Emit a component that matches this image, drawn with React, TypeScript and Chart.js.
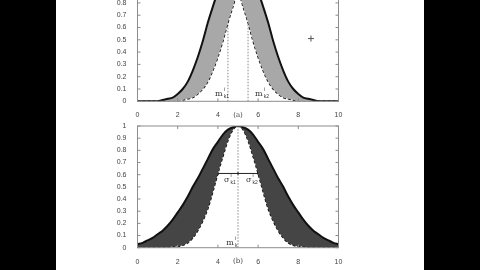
import { useEffect, useRef } from "react";
import { Chart, registerables } from "chart.js";

Chart.register(...registerables);

// ---------- data ----------
const xGrid = [
  0, 0.25, 0.5, 0.75, 1, 1.25, 1.5, 1.75, 2, 2.25, 2.5, 2.75, 3, 3.25, 3.5, 3.75, 4, 4.25, 4.5, 4.75, 5,
  5.25, 5.5, 5.75, 6, 6.25, 6.5, 6.75, 7, 7.25, 7.5, 7.75, 8, 8.25, 8.5, 8.75, 9, 9.25, 9.5, 9.75, 10,
];

// (a) uncertain mean: upper (solid) and lower (dashed) membership
const topUpper = [
  0, 0, 0, 0, 0, 0.01, 0.02, 0.03, 0.06, 0.1, 0.16, 0.25, 0.36, 0.49, 0.64, 0.77, 0.89, 0.97, 1, 1, 1,
  1, 1, 0.97, 0.89, 0.77, 0.64, 0.49, 0.36, 0.25, 0.16, 0.1, 0.06, 0.03, 0.02, 0.01, 0, 0, 0, 0, 0,
];
const topLower = [
  0, 0, 0, 0, 0, 0, 0, 0, 0, 0.01, 0.02, 0.03, 0.06, 0.1, 0.16, 0.25, 0.36, 0.49, 0.64, 0.77, 0.89,
  0.77, 0.64, 0.49, 0.36, 0.25, 0.16, 0.1, 0.06, 0.03, 0.02, 0.01, 0, 0, 0, 0, 0, 0, 0, 0, 0,
];
const topMeans = [4.5, 5.5];
const topCross = [{ x: 8.63, y: 0.51 }];

// (b) uncertain standard deviation
const bottomUpper = [
  0.03, 0.04, 0.06, 0.08, 0.11, 0.14, 0.18, 0.23, 0.29, 0.35, 0.42, 0.5, 0.57, 0.65, 0.73, 0.81, 0.87, 0.93, 0.97, 0.99, 1,
  0.99, 0.97, 0.93, 0.87, 0.81, 0.73, 0.65, 0.57, 0.5, 0.42, 0.35, 0.29, 0.23, 0.18, 0.14, 0.11, 0.08, 0.06, 0.04, 0.03,
];
const bottomLower = [
  0, 0, 0, 0, 0, 0, 0, 0.01, 0.01, 0.02, 0.04, 0.08, 0.14, 0.22, 0.32, 0.46, 0.61, 0.75, 0.88, 0.97, 1,
  0.97, 0.88, 0.75, 0.61, 0.46, 0.32, 0.22, 0.14, 0.08, 0.04, 0.02, 0.01, 0.01, 0, 0, 0, 0, 0, 0, 0,
];
const bottomMean = 5;
const sigmaLineX = [4, 5, 6];
const sigmaLineY = 0.61;

const xTickStep = 2;
const yTickStep = 0.1;

// ---------- helpers ----------
const FONT = "'Liberation Sans', Arial, sans-serif";
const pts = (ys: number[]) => xGrid.map((x, i) => ({ x, y: ys[i] }));

type Lbl = { main: string; sup: string; sub: string; x: number; y: number };

const topLabels: Lbl[] = [
  { main: "m", sup: "i", sub: "k1", x: 3.86, y: 0.04 },
  { main: "m", sup: "i", sub: "k2", x: 5.85, y: 0.04 },
];
const bottomLabels: Lbl[] = [
  { main: "σ", sup: "i", sub: "k1", x: 4.3, y: 0.54 },
  { main: "σ", sup: "i", sub: "k2", x: 5.4, y: 0.54 },
  { main: "m", sup: "i", sub: "k", x: 4.42, y: 0.02 },
];

function makeDecor(labels: Lbl[], caption: string, captionOffset: number) {
  return {
    id: "decor" + caption,
    afterDatasetsDraw(chart: any) {
      const { ctx, chartArea: a, scales } = chart;
      const xs = scales.x;
      const ys = scales.y;
      ctx.save();
      // frame
      ctx.strokeStyle = "#8c8c8c";
      ctx.lineWidth = 1;
      ctx.strokeRect(a.left, a.top, a.right - a.left, a.bottom - a.top);
      // inward ticks
      ctx.beginPath();
      for (let v = 0; v <= 1.0001; v += yTickStep) {
        const py = ys.getPixelForValue(v);
        ctx.moveTo(a.left, py);
        ctx.lineTo(a.left + 3, py);
        ctx.moveTo(a.right, py);
        ctx.lineTo(a.right - 3, py);
      }
      for (let v = 0; v <= 10; v += xTickStep) {
        const px = xs.getPixelForValue(v);
        ctx.moveTo(px, a.bottom);
        ctx.lineTo(px, a.bottom - 3);
        ctx.moveTo(px, a.top);
        ctx.lineTo(px, a.top + 3);
      }
      ctx.stroke();
      // labels
      ctx.fillStyle = "#333";
      ctx.textBaseline = "alphabetic";
      ctx.textAlign = "left";
      for (const l of labels) {
        const px = xs.getPixelForValue(l.x);
        const py = ys.getPixelForValue(l.y);
        ctx.font = `8px 'DejaVu Serif', serif`;
        ctx.fillText(l.main, px, py);
        const w = ctx.measureText(l.main).width;
        ctx.font = `5px ${FONT}`;
        ctx.fillText(l.sup, px + w + 1, py - 5);
        ctx.fillText(l.sub, px + w + 1, py + 2);
      }
      // caption
      ctx.font = `7px 'DejaVu Serif', serif`;
      ctx.textAlign = "center";
      ctx.fillStyle = "#444";
      ctx.fillText(caption, (a.left + a.right) / 2, a.bottom + captionOffset);
      ctx.restore();
    },
  };
}

function baseScales(xHeight: number) {
  return {
    x: {
      type: "linear" as const,
      min: 0,
      max: 10,
      grid: { display: false },
      border: { display: false },
      ticks: { stepSize: xTickStep, padding: 2, color: "#444", font: { size: 7, family: FONT }, maxRotation: 0 },
      afterFit: (s: any) => {
        s.height = xHeight;
      },
    },
    y: {
      min: 0,
      max: 1,
      grid: { display: false },
      border: { display: false },
      ticks: {
        stepSize: yTickStep,
        padding: 3,
        autoSkip: false,
        color: "#444",
        font: { size: 7, family: FONT },
        callback: (v: any) => String(Math.round(Number(v) * 10) / 10),
      },
      afterFit: (s: any) => {
        s.width = 37.5;
      },
    },
  };
}

const vline = (x: number, color: string) => ({
  data: [
    { x, y: 0 },
    { x, y: 1 },
  ],
  borderColor: color,
  borderWidth: 1,
  borderDash: [1.5, 1.5],
  pointRadius: 0,
  fill: false,
  tension: 0,
});

function ChartCanvas({ build, left, top, width, height }: any) {
  const ref = useRef<HTMLCanvasElement | null>(null);
  useEffect(() => {
    if (!ref.current) return;
    const chart = new Chart(ref.current, build());
    return () => chart.destroy();
  }, []);
  return (
    <canvas
      ref={ref}
      width={width}
      height={height}
      style={{ position: "absolute", left, top, width, height, display: "block" }}
    />
  );
}

function buildTop(): any {
  return {
    type: "line",
    data: {
      datasets: [
        {
          data: pts(topUpper),
          borderColor: "#111",
          borderWidth: 2,
          backgroundColor: "#a8a8a8",
          fill: "+1",
          pointRadius: 0,
          cubicInterpolationMode: "monotone",
        },
        {
          data: pts(topLower),
          borderColor: "#111",
          borderWidth: 1.5,
          borderDash: [3, 2],
          fill: false,
          pointRadius: 0,
          cubicInterpolationMode: "monotone",
        },
        vline(topMeans[0], "#8a8a8a"),
        vline(topMeans[1], "#8a8a8a"),
        {
          data: topCross,
          showLine: false,
          pointStyle: "cross",
          pointRadius: 3,
          borderColor: "#555",
          borderWidth: 1,
        },
      ],
    },
    options: {
      responsive: false,
      animation: false,
      events: [],
      layout: { padding: { top: 8.3, right: 21.5, left: 0, bottom: 0 } },
      plugins: { legend: { display: false }, tooltip: { enabled: false } },
      scales: baseScales(28.7),
    },
    plugins: [makeDecor(topLabels, "(a)", 15.5)],
  };
}

function buildBottom(): any {
  return {
    type: "line",
    data: {
      datasets: [
        {
          data: pts(bottomUpper),
          borderColor: "#111",
          borderWidth: 2,
          backgroundColor: "#454545",
          fill: "+1",
          pointRadius: 0,
          cubicInterpolationMode: "monotone",
        },
        {
          data: pts(bottomLower),
          borderColor: "#111",
          borderWidth: 1.5,
          borderDash: [3, 2],
          fill: false,
          pointRadius: 0,
          cubicInterpolationMode: "monotone",
        },
        vline(bottomMean, "#8a8a8a"),
        {
          data: sigmaLineX.map((x) => ({ x, y: sigmaLineY })),
          borderColor: "#222",
          borderWidth: 1,
          pointRadius: 1.2,
          pointBackgroundColor: "#222",
          pointBorderWidth: 0,
          fill: false,
          tension: 0,
        },
      ],
    },
    options: {
      responsive: false,
      animation: false,
      events: [],
      layout: { padding: { top: 11, right: 21.5, left: 0, bottom: 0 } },
      plugins: { legend: { display: false }, tooltip: { enabled: false } },
      scales: baseScales(22.3),
    },
    plugins: [makeDecor(bottomLabels, "(b)", 15.3)],
  };
}

export default function App() {
  return (
    <div
      style={{
        position: "fixed",
        left: 0,
        top: 0,
        width: 480,
        height: 270,
        background: "#000",
        overflow: "hidden",
      }}
    >
      <div style={{ position: "absolute", left: 56, top: 0, width: 368, height: 270, background: "#fff" }} />
      <ChartCanvas build={buildTop} left={100} top={-30} width={260} height={160} />
      <ChartCanvas build={buildBottom} left={100} top={115} width={260} height={155} />
    </div>
  );
}
